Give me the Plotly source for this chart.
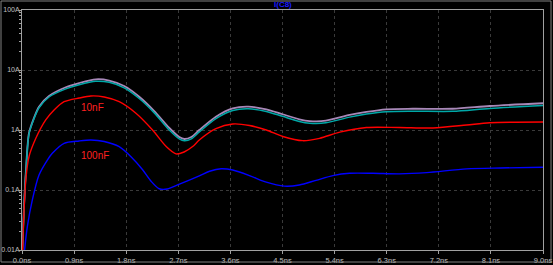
import plotly.graph_objects as go

# time in ns
t_top = [0.005, 0.035, 0.069, 0.121, 0.208, 0.294, 0.467, 0.756, 0.987, 1.276, 1.506, 1.765,
         2.025, 2.285, 2.545, 2.717, 2.804, 2.925, 3.063, 3.35, 3.64, 3.91, 4.22, 4.50,
         4.79, 4.97, 5.25, 5.66, 5.95, 6.29, 6.75, 7.44, 8.08, 9.0]
i_purple = [0.01, 0.054, 0.215, 0.89, 1.6, 2.45, 3.69, 5.15, 6.07, 7.0, 6.68, 5.41,
            3.59, 2.07, 1.08, 0.764, 0.708, 0.764, 1.0, 1.67, 2.30, 2.45, 2.21, 1.83,
            1.51, 1.41, 1.43, 1.78, 2.0, 2.21, 2.26, 2.26, 2.51, 2.79]
i_teal = [0.01, 0.052, 0.21, 0.86, 1.55, 2.35, 3.55, 4.85, 5.7, 6.5, 6.25, 5.05,
          3.35, 1.93, 1.0, 0.71, 0.66, 0.71, 0.93, 1.55, 2.12, 2.26, 2.04, 1.69,
          1.39, 1.30, 1.32, 1.64, 1.84, 2.02, 2.06, 2.05, 2.29, 2.55]

t_red = [0.01, 0.035, 0.069, 0.121, 0.237, 0.41, 0.554, 0.727, 0.987, 1.19, 1.42, 1.679,
         1.968, 2.255, 2.50, 2.66, 2.80, 2.948, 3.063, 3.35, 3.64, 3.93, 4.22, 4.505,
         4.85, 5.14, 5.49, 5.95, 6.52, 7.10, 7.68, 8.08, 9.0]
i_red = [0.01, 0.045, 0.16, 0.36, 0.72, 1.47, 2.15, 2.96, 3.41, 3.69, 3.55, 2.96,
         1.90, 1.0, 0.52, 0.40, 0.43, 0.53, 0.68, 1.05, 1.26, 1.19, 1.0, 0.78,
         0.664, 0.727, 0.92, 1.10, 1.10, 1.08, 1.21, 1.32, 1.36]

t_blue = [0.045, 0.092, 0.178, 0.294, 0.438, 0.524, 0.727, 0.987, 1.19, 1.42, 1.679, 1.887,
          2.08, 2.23, 2.37, 2.51, 2.72, 3.063, 3.24, 3.44, 3.64, 3.93, 4.22, 4.53,
          4.79, 5.08, 5.37, 5.66, 6.06, 6.52, 6.99, 7.68, 8.26, 9.0]
i_blue = [0.01, 0.0245, 0.068, 0.178, 0.316, 0.409, 0.6, 0.656, 0.681, 0.643, 0.527, 0.355,
          0.22, 0.14, 0.105, 0.104, 0.125, 0.172, 0.205, 0.226, 0.215, 0.174, 0.135, 0.116,
          0.121, 0.145, 0.174, 0.19, 0.19, 0.186, 0.195, 0.225, 0.233, 0.239]

x_tickvals = [0, 0.9, 1.8, 2.7, 3.6, 4.5, 5.4, 6.3, 7.2, 8.1, 9.0]
x_ticktext = ["0.0ns", "0.9ns", "1.8ns", "2.7ns", "3.6ns", "4.5ns", "5.4ns", "6.3ns", "7.2ns", "8.1ns", "9.0ns"]
y_tickvals = [0.01, 0.1, 1, 10, 100]
y_ticktext = ["0.01A", "0.1A", "1A", "10A", "100A"]
y_minor_vals = [m * d for d in [0.01, 0.1, 1, 10] for m in range(2, 10)]

fig = go.Figure()
fig.add_trace(go.Scatter(x=t_top, y=i_purple, mode="lines", line=dict(color="#a888b8", width=1.8, shape="spline", smoothing=0.8)))
fig.add_trace(go.Scatter(x=t_top, y=i_teal, mode="lines", line=dict(color="#00a8a8", width=1.5, shape="spline", smoothing=0.8)))
fig.add_trace(go.Scatter(x=t_red, y=i_red, mode="lines", line=dict(color="#ff0000", width=1.4, shape="spline", smoothing=0.8)))
fig.add_trace(go.Scatter(x=t_blue, y=i_blue, mode="lines", line=dict(color="#0000ff", width=1.4, shape="spline", smoothing=0.8)))

fig.add_annotation(x=0.987, y=0.383, text="10nF", showarrow=False, xanchor="left", yanchor="middle",
                   font=dict(color="#ff2020", size=10, family="Liberation Sans"))
fig.add_annotation(x=0.987, y=-0.428, text="100nF", showarrow=False, xanchor="left", yanchor="middle",
                   font=dict(color="#ff2020", size=10, family="Liberation Sans"))

fig.add_annotation(x=0.5, y=1.0, xref="paper", yref="paper", yanchor="bottom", yshift=-1,
                   text="<b>I(C8)</b>", showarrow=False,
                   font=dict(color="#1a1aff", size=8, family="Liberation Sans"))

# outer window border
fig.add_shape(type="rect", xref="paper", yref="paper", x0=-0.0403, x1=1.0154, y0=-0.05, y1=1.0375,
              line=dict(color="#808080", width=1))

grid_color = "#3a3a3a"
fig.update_layout(
    width=553, height=265,
    margin=dict(l=22, r=10, t=10, b=15, autoexpand=False),
    paper_bgcolor="#000000", plot_bgcolor="#000000",
    showlegend=False,
    font=dict(family="Liberation Sans", size=8, color="#c0c0c0"),
    xaxis=dict(range=[0, 9], tickvals=x_tickvals, ticktext=x_ticktext, showgrid=True, automargin=False,
               gridcolor=grid_color, griddash="dot", gridwidth=1, zeroline=False,
               showline=True, linecolor="#a0a0a0", linewidth=1, mirror=True,
               ticks="outside", ticklen=3, tickcolor="#a0a0a0", tickfont=dict(size=7.5, color="#c0c0c0")),
    yaxis=dict(type="log", range=[-2, 2], tickvals=y_tickvals, ticktext=y_ticktext, showgrid=True, automargin=False,
               gridcolor=grid_color, griddash="dot", gridwidth=1, zeroline=False,
               showline=True, linecolor="#a0a0a0", linewidth=1, mirror=True,
               ticks="outside", ticklen=2, tickcolor="#a0a0a0", ticklabelstandoff=-2,
               tickfont=dict(size=7, color="#c0c0c0"),
               minor=dict(tickmode="array", tickvals=y_minor_vals, ticks="outside", ticklen=2,
                          tickcolor="#a0a0a0", showgrid=False)),
)

fig.write_html("out.html")
